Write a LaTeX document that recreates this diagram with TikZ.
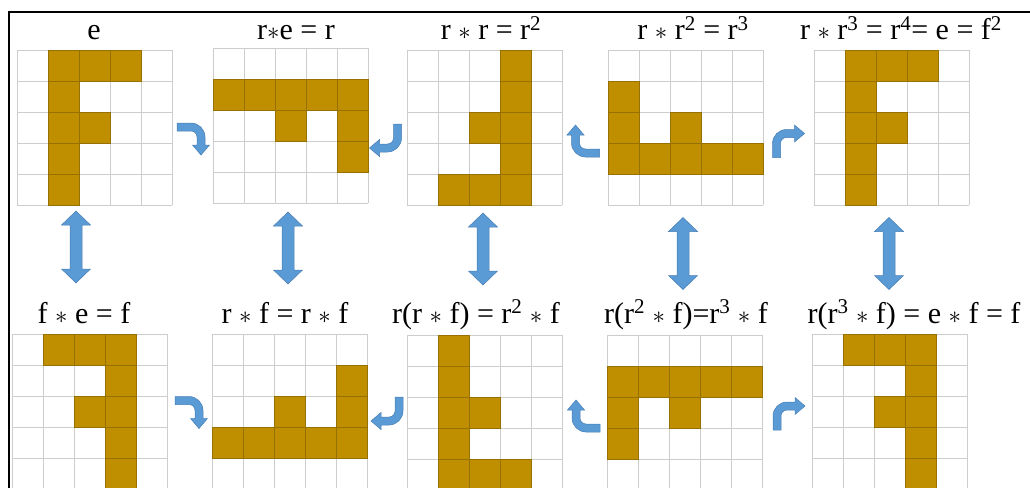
\documentclass[tikz,border=0pt]{standalone}
\usepackage{fontspec}
\setmainfont{Liberation Serif}
\definecolor{gold}{RGB}{191,143,0}
\definecolor{golddark}{RGB}{150,112,0}
\definecolor{gridgray}{RGB}{205,205,205}
\definecolor{arrowblue}{RGB}{91,155,213}
\definecolor{arrowedge}{RGB}{70,125,180}
\newcommand{\opst}{\ensuremath{\ast}}
\newcommand{\cellgrid}[4]{%
  \node[gridbox] (#1) at (#2+77.5,#3+77.5) {};
  \foreach \i in {0,...,5} {
    \draw[gridline] (#2+\i*31,#3) -- (#2+\i*31,#3+155);
    \draw[gridline] (#2,#3+\i*31) -- (#2+155,#3+\i*31);
  }
  \foreach \r/\c in {#4} {
    \draw[goldcell] (#2+\c*31,#3+\r*31) rectangle ++(31,31);
  }
}
\tikzset{
  gridbox/.style={minimum size=155pt, inner sep=0pt},
  gridline/.style={draw=gridgray, line width=0.9pt},
  goldcell/.style={fill=gold, draw=golddark, line width=0.6pt},
  lab/.style={anchor=base, inner sep=0pt, font=\fontsize{30}{36}\selectfont},
  blueshape/.style={fill=arrowblue, draw=arrowedge, line width=0.5pt},
  bentarrow/.pic={
    \draw[blueshape] (-16.5,-16) -- (-2.5,-16)
      .. controls (5.2,-16) and (11.5,-9.7) .. (11.5,-2)
      -- (11.5,6) -- (16,6) -- (7.5,16) -- (-1,6) -- (3.5,6) -- (3.5,-2)
      .. controls (3.5,-5.3) and (0.8,-8) .. (-2.5,-8)
      -- (-16.5,-8) -- cycle;
  },
  dblarrow/.pic={
    \draw[blueshape] (0,-36) -- (14.5,-22) -- (6,-22) -- (6,22) -- (14.5,22)
      -- (0,36) -- (-14.5,22) -- (-6,22) -- (-6,-22) -- (-14.5,-22) -- cycle;
  }
}
\begin{document}
\begin{tikzpicture}[x=1pt,y=-1pt]
\useasboundingbox (0,0) rectangle (1030,487);
% frame
\draw[line width=2pt] (9,490) -- (9,12) -- (1032,12);
% top row grids
\cellgrid{g1}{17}{50}{0/1,0/2,0/3,1/1,2/1,2/2,3/1,4/1}
\cellgrid{g2}{213}{48}{1/0,1/1,1/2,1/3,1/4,2/2,2/4,3/4}
\cellgrid{g3}{407}{50}{0/3,1/3,2/3,3/3,4/3,2/2,4/1,4/2}
\cellgrid{g4}{608}{50}{1/0,2/0,2/2,3/0,3/1,3/2,3/3,3/4}
\cellgrid{g5}{814}{50}{0/1,0/2,0/3,1/1,2/1,2/2,3/1,4/1}
% bottom row grids
\cellgrid{g6}{12}{334}{0/1,0/2,0/3,1/3,2/3,3/3,4/3,2/2}
\cellgrid{g7}{212}{334}{1/4,2/2,2/4,3/0,3/1,3/2,3/3,3/4}
\cellgrid{g8}{407}{335}{0/1,1/1,2/1,3/1,4/1,2/2,4/2,4/3}
\cellgrid{g9}{607}{335}{1/0,1/1,1/2,1/3,1/4,2/0,2/2,3/0}
\cellgrid{g10}{812}{334}{0/1,0/2,0/3,1/3,2/3,3/3,4/3,2/2}
% labels
\node[lab] (l1) at (94,40) {e};
\node[lab] (l2) at (296,40) {r\opst e = r};
\node[lab] (l3) at (491,40) {r \opst{} r = r\textsuperscript{2}};
\node[lab] (l4) at (693,40) {r \opst{} r\textsuperscript{2} = r\textsuperscript{3}};
\node[lab] (l5) at (901,40) {r \opst{} r\textsuperscript{3} = r\textsuperscript{4}= e = f\textsuperscript{2}};
\node[lab] (l6) at (84,323) {f \opst{} e = f};
\node[lab] (l7) at (285,323) {r \opst{} f = r \opst{} f};
\node[lab] (l8) at (476,323) {r(r \opst{} f) = r\textsuperscript{2} \opst{} f};
\node[lab] (l9) at (686,323) {r(r\textsuperscript{2} \opst{} f)=r\textsuperscript{3} \opst{} f};
\node[lab] (l10) at (914,323) {r(r\textsuperscript{3} \opst{} f) = e \opst{} f = f};
% bent arrows top row
\pic at (193.5,139) {bentarrow};
\pic[rotate=-90] at (385.5,140.5) {bentarrow};
\pic[rotate=180] at (583,141) {bentarrow};
\pic[rotate=90] at (788.5,141) {bentarrow};
% bent arrows bottom row
\pic at (191.5,412.5) {bentarrow};
\pic[rotate=-90] at (387,413.5) {bentarrow};
\pic[rotate=180] at (583.5,416) {bentarrow};
\pic[rotate=90] at (789,413.5) {bentarrow};
% double arrows
\pic at (76,247) {dblarrow};
\pic at (288,248) {dblarrow};
\pic at (483,249) {dblarrow};
\pic at (683,253.5) {dblarrow};
\pic at (889,253.5) {dblarrow};
\end{tikzpicture}
\end{document}
